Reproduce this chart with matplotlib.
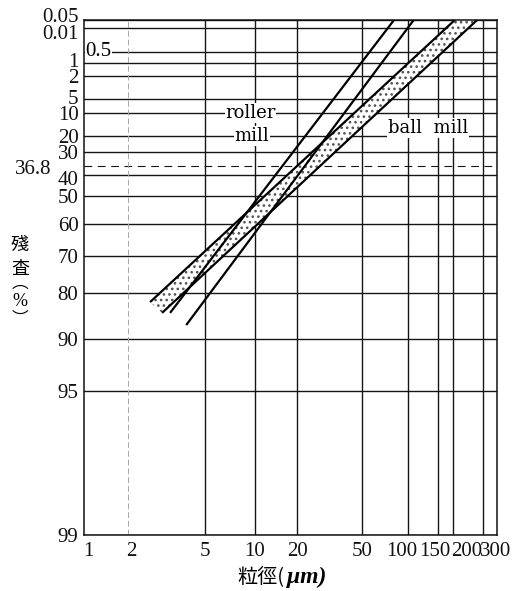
import numpy as np
import matplotlib
matplotlib.use("Agg")
import matplotlib.pyplot as plt
from matplotlib.transforms import ScaledTranslation

# ---------------- data ----------------
x_tick_values = [1, 2, 5, 10, 20, 50, 100, 150, 200, 300]
x_tick_labels = ["1", "2", "5", "10", "20", "50", "100", "150", "200", "300"]
y_tick_values = [0.01, 0.05, 0.5, 1, 2, 5, 10, 20, 30, 36.8, 40, 50, 60, 70, 80, 90, 95, 99]
y_tick_labels = ["0.05", "0.01", "", "1", "2", "5", "10", "20", "30", "36.8", "40",
                 "50", "60", "70", "80", "90", "95", "99"]

# particle size (um) / residue (%) end points of the lines
roller_fine_d = [3.3, 81]
roller_fine_r = [85.1, 0.01]
roller_coarse_d = [4.0, 108]
roller_coarse_r = [87.6, 0.01]
ball_fine_d = [2.6, 205]
ball_fine_r = [82.5, 0.01]
ball_coarse_d = [3.0, 277]
ball_coarse_r = [85.1, 0.01]

# ---------------- layout (hand-drawn, non-uniform chart scales) ----------------
W, H = 529, 591
AX_L, AX_R, AX_T, AX_B = 84, 497, 20, 535
X_SCALE_PX = [84, 128, 205, 255, 297, 362, 408, 438, 453, 483]
Y_SCALE_PX = [20, 28, 52, 63, 76, 99, 113, 136, 152, 166, 175, 196, 224, 256, 293, 339, 391, 535]


def interp_ext(x, xp, fp):
    x = np.asarray(x, dtype=float)
    shape = x.shape
    x = np.atleast_1d(x)
    xp = np.asarray(xp, float)
    fp = np.asarray(fp, float)
    y = np.interp(x, xp, fp)
    lo = x < xp[0]
    hi = x > xp[-1]
    y[lo] = fp[0] + (x[lo] - xp[0]) * (fp[1] - fp[0]) / (xp[1] - xp[0])
    y[hi] = fp[-1] + (x[hi] - xp[-1]) * (fp[-1] - fp[-2]) / (xp[-1] - xp[-2])
    return y.reshape(shape)


X_LOG = np.log10(x_tick_values)


def x_fwd(d):
    d = np.clip(np.asarray(d, float), 1e-9, None)
    return interp_ext(np.log10(d), X_LOG, X_SCALE_PX)


def x_inv(p):
    return 10 ** interp_ext(p, X_SCALE_PX, X_LOG)


def rr_u(r):
    r = np.clip(np.asarray(r, float), 1e-9, 100 - 1e-9)
    return -np.log10(np.log(100.0 / r))


def rr_r(u):
    return 100.0 / np.exp(10 ** (-np.asarray(u, float)))


Y_U = rr_u(y_tick_values)


def y_fwd(r):
    return interp_ext(rr_u(r), Y_U, Y_SCALE_PX)


def y_inv(p):
    return rr_r(interp_ext(p, Y_SCALE_PX, Y_U))


plt.rcParams["hatch.linewidth"] = 1.1
SERIF = "Liberation Serif"
SERIF2 = "DejaVu Serif"
CJK = ["Noto Sans CJK JP", "DejaVu Sans"]

fig = plt.figure(figsize=(W / 100, H / 100), dpi=100)
fig.patch.set_facecolor("white")
ax = fig.add_axes([AX_L / W, 1 - AX_B / H, (AX_R - AX_L) / W, (AX_B - AX_T) / H])
ax.set_xscale("function", functions=(x_fwd, x_inv))
ax.set_yscale("function", functions=(y_fwd, y_inv))
ax.set_xlim(float(x_inv(AX_L)), float(x_inv(AX_R)))
ax.set_ylim(float(y_inv(AX_B)), float(y_inv(AX_T)))

for s in ax.spines.values():
    s.set_color("#111111")
    s.set_linewidth(1.1)

# grid
GRID_C = "#151515"
for v in y_tick_values:
    if v == 36.8:
        ax.axhline(v, color=GRID_C, lw=0.8, ls=(0, (7, 5)), zorder=1)
    else:
        ax.axhline(v, color=GRID_C, lw=1.0, zorder=1)
for v in x_tick_values[1:]:
    if v == 2:
        ax.axvline(v, color="#a8a8a8", lw=0.7, ls=(0, (6, 3)), zorder=1)
    else:
        ax.axvline(v, color=GRID_C, lw=1.0, zorder=1)

# ball mill band
band_x = ball_fine_d + ball_coarse_d[::-1]
band_y = ball_fine_r + ball_coarse_r[::-1]
ax.fill(band_x, band_y, facecolor="white", edgecolor="#555555", lw=0,
        hatch="...", zorder=2)

for dd, rr in [(roller_fine_d, roller_fine_r), (roller_coarse_d, roller_coarse_r),
               (ball_fine_d, ball_fine_r), (ball_coarse_d, ball_coarse_r)]:
    ax.plot(dd, rr, color="black", lw=1.6, solid_capstyle="butt", zorder=3)

# ticks
ax.set_xticks(x_tick_values, x_tick_labels)
ax.set_yticks(y_tick_values, y_tick_labels)
ax.tick_params(axis="both", length=0, labelsize=15, colors="#111111")
ax.tick_params(axis="y", pad=4)
ax.tick_params(axis="x", pad=5)
for lbl in ax.get_xticklabels() + ax.get_yticklabels():
    lbl.set_fontfamily(SERIF)

x_off = {"1": 4, "2": 3, "100": -6, "150": -3, "200": 14, "300": 13}
y_off = {"0.05": (0, 5), "0.01": (0, -4), "1": (0, 3), "5": (0, 2),
         "40": (0, -3), "36.8": (-27, -1)}
for lbl in ax.get_xticklabels():
    dx = x_off.get(lbl.get_text(), 0)
    lbl.set_transform(lbl.get_transform() + ScaledTranslation(dx / 100, 0, fig.dpi_scale_trans))
for lbl in ax.get_yticklabels():
    dx, dy = y_off.get(lbl.get_text(), (0, 0))
    lbl.set_transform(lbl.get_transform() + ScaledTranslation(dx / 100, dy / 100, fig.dpi_scale_trans))

# in-plot labels
bb = dict(facecolor="white", edgecolor="none", pad=0.5)
ax.annotate("0.5", xy=(1, 0.5), xytext=(1.0, 0), textcoords="offset points",
            ha="left", va="center", fontsize=15, family=SERIF, bbox=bb, zorder=4)
ax.text(9.4, 10, "roller", ha="center", va="center", fontsize=13, family=SERIF2,
        bbox=bb, zorder=4)
ax.text(9.6, 20, "mill", ha="center", va="center", fontsize=13, family=SERIF2,
        bbox=bb, zorder=4)
ax.text(131, 16.2, "ball  mill", ha="center", va="center", fontsize=13, family=SERIF2,
        bbox=bb, zorder=4)

# axis titles
for ch, py, fs in [("殘", 245, 13), ("査", 269, 13), ("︵", 283, 12), ("%", 301, 13), ("︶", 319, 12)]:
    fig.text(20 / W, 1 - py / H, ch, ha="center", va="center", fontsize=fs,
             family=CJK if ch != "%" else SERIF)

t1 = fig.text(237 / W, 1 - 577 / H, "粒徑(", ha="left", va="center",
              fontsize=14.5, family=CJK)
ax.annotate("μm)", xy=(1, 0.5), xycoords=t1, xytext=(2, 0), textcoords="offset points",
            ha="left", va="center",
            fontsize=17, family=SERIF, style="italic", weight="bold",
            annotation_clip=False)

fig.savefig("out.png", dpi=100, facecolor="white")
